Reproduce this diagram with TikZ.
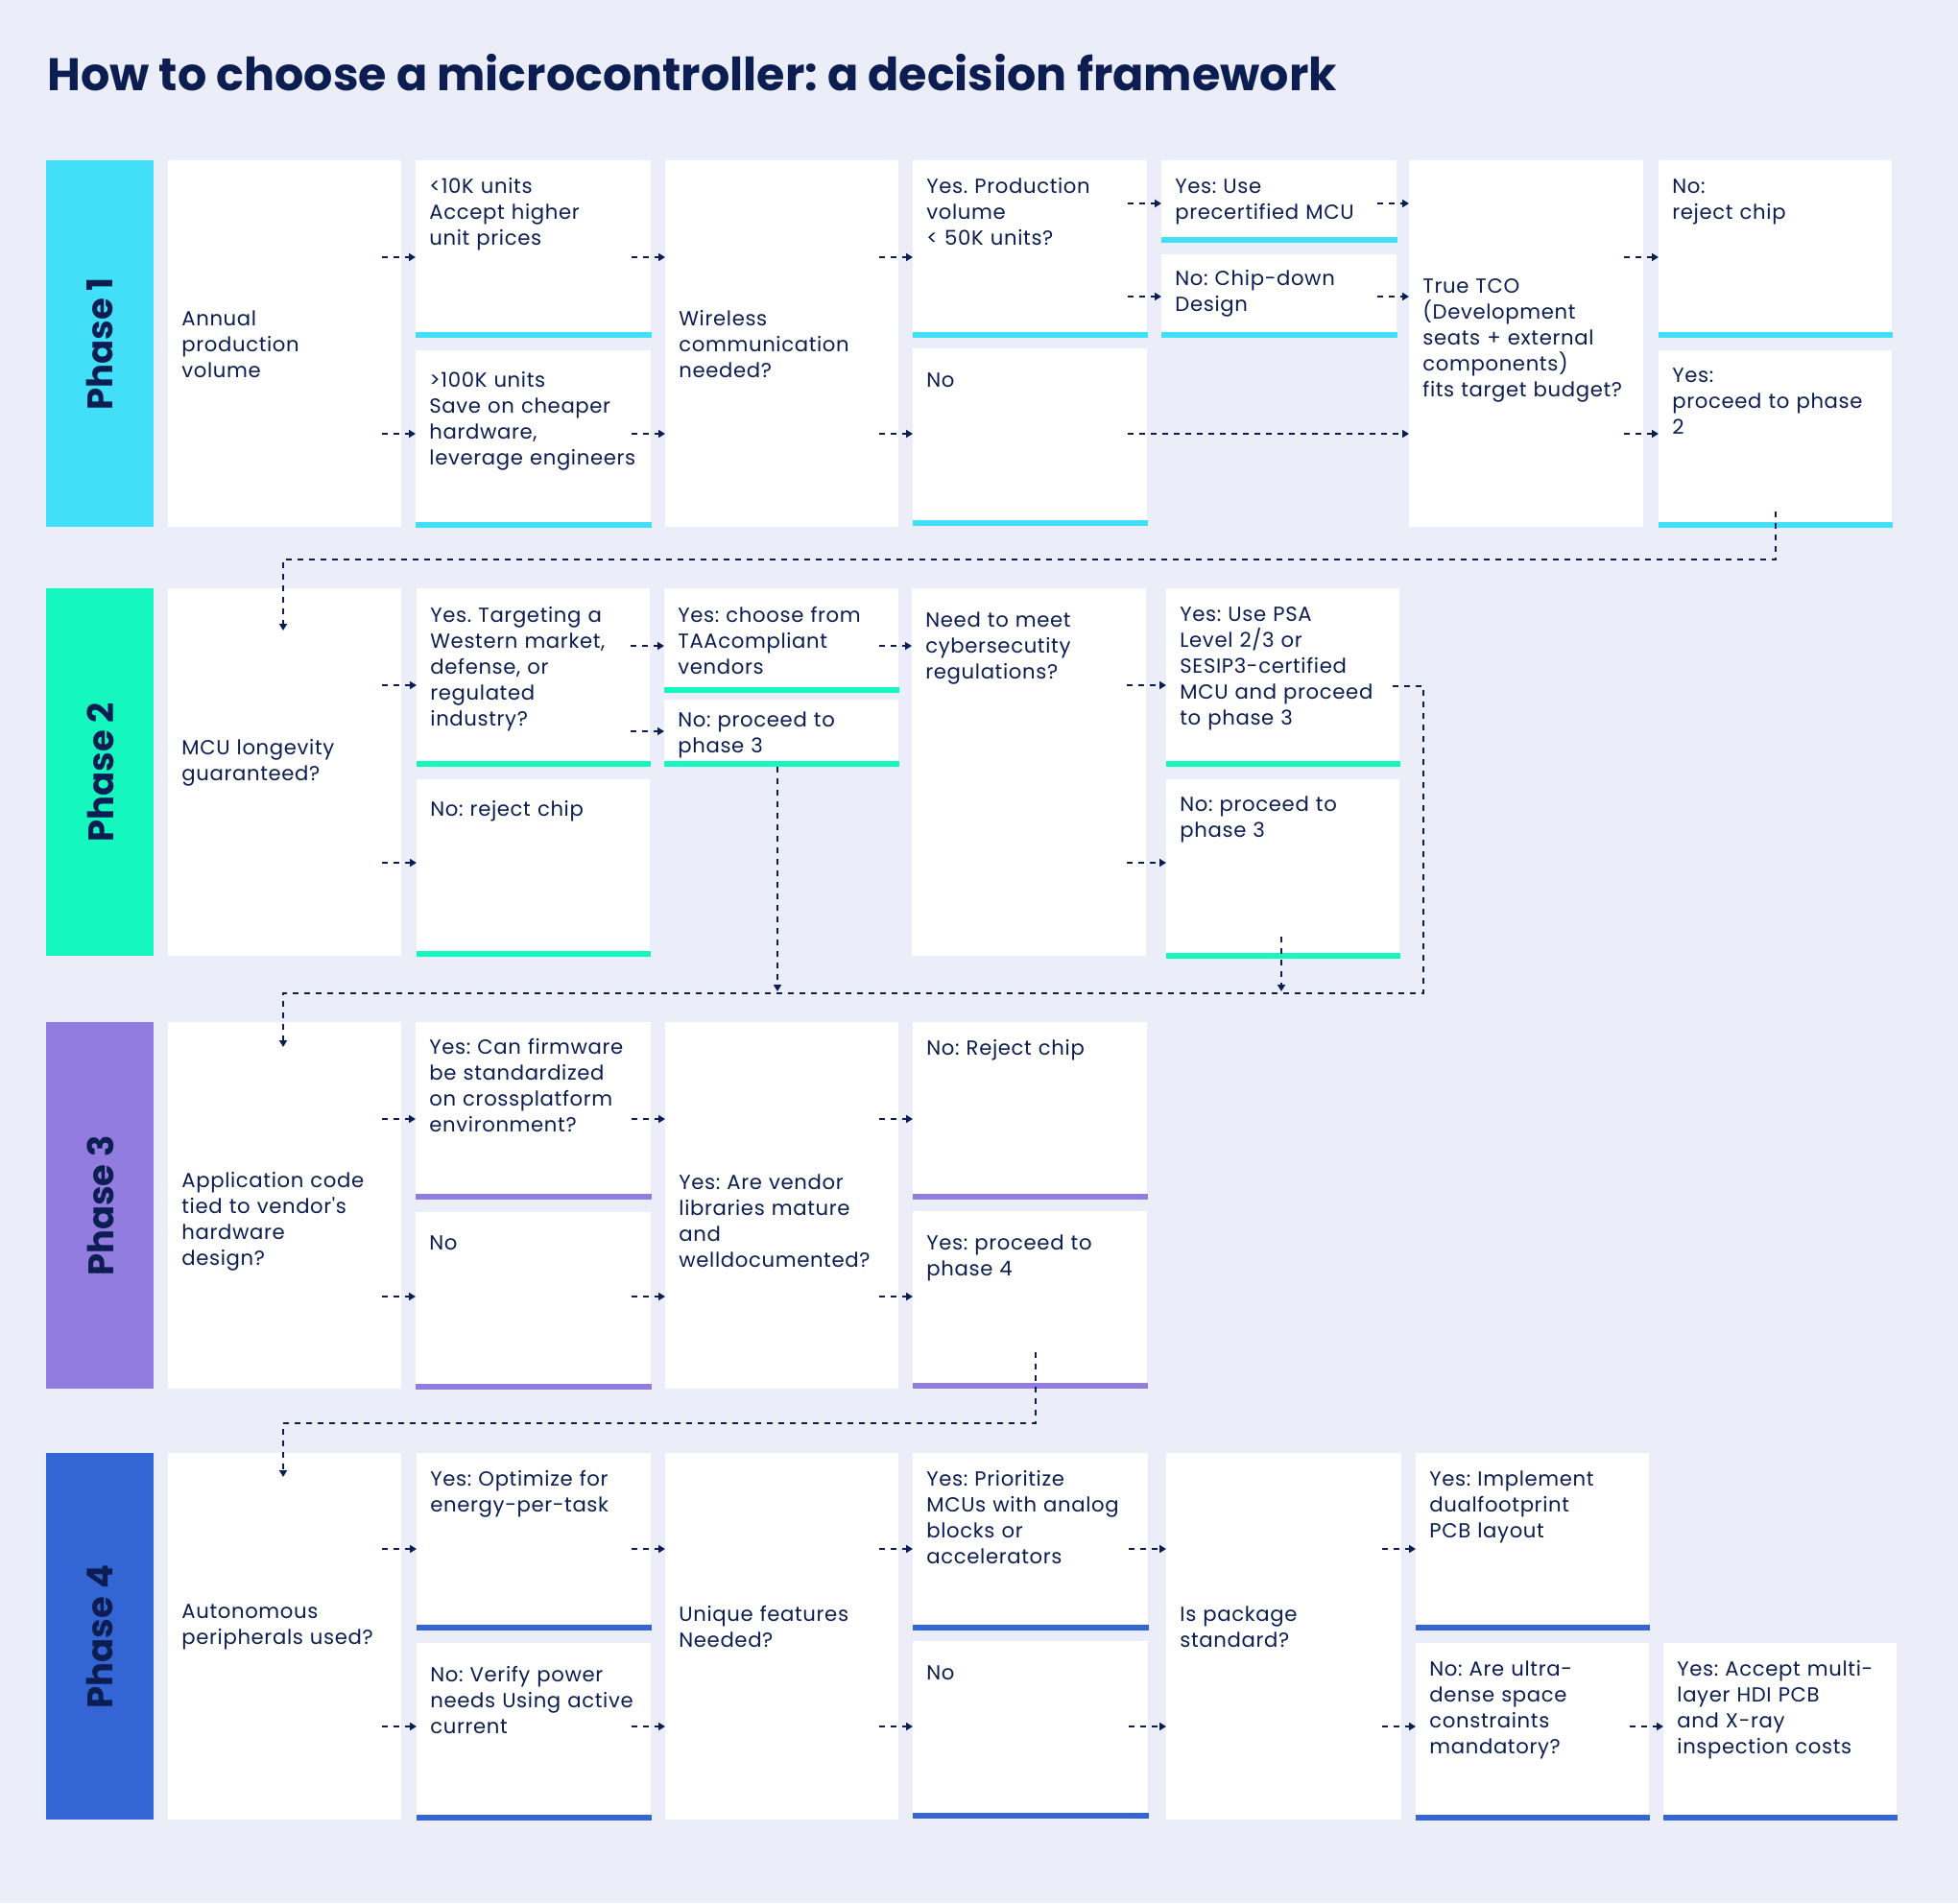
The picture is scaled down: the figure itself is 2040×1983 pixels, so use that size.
\documentclass[tikz,border=0pt]{standalone}
\usepackage{fontspec}
\setmainfont{Poppins}
\newfontfamily\bodyf{Poppins}[LetterSpace=3]
\usetikzlibrary{arrows.meta,calc}
\definecolor{bg}{HTML}{EBEEF8}
\definecolor{navy}{HTML}{0B1D51}
\definecolor{pa}{HTML}{42E0F8}
\definecolor{pb}{HTML}{14F8C0}
\definecolor{pc}{HTML}{927CE0}
\definecolor{pd}{HTML}{3366D4}
\frenchspacing
\tikzset{
  wbox/.style={fill=white, draw=none, inner sep=0pt, rectangle},
  btxt/.style={text=navy, font=\bodyf\fontsize{10.6pt}{13.5pt}\selectfont\frenchspacing, text width=118pt, align=left, inner sep=0pt},
  phbar/.style={draw=none, inner sep=0pt, anchor=north west, minimum width=56pt},
  phtxt/.style={rotate=90, text=navy, inner sep=0pt, font=\bfseries\fontsize{18.5pt}{20pt}\selectfont},
  conn/.style={draw=navy, line width=1pt, dash pattern=on 3pt off 3pt},
  arr/.style={conn, -{Triangle[length=3.5pt,width=4pt]}},
}
% question box, text centred vertically (#7 = vertical shift in px)
\newcommand\qbx[7]{%
  \node[wbox, anchor=north west, minimum width={(#4-#2)*0.5pt}, minimum height={(#5-#3)*0.5pt}] (#1) at (#2,#3) {};
  \node[btxt, anchor=west] (#1t) at ($(#1.west)+(14,#7)$) {#6};}
% question box, text at top
\newcommand\tqbx[7]{%
  \node[wbox, anchor=north west, minimum width={(#4-#2)*0.5pt}, minimum height={(#5-#3)*0.5pt}] (#1) at (#2,#3) {};
  \node[btxt, anchor=base west] (#1t) at ($(#1.north west)+(14,#7)$) {#6};}
% answer box with coloured bottom bar
\newcommand\abx[8]{%
  \node[wbox, anchor=north west, minimum width={(#4-#2)*0.5pt}, minimum height={(#5-#3)*0.5pt}] (#1) at (#2,#3) {};
  \fill[#6] ($(#1.south west)+(0,-6)$) rectangle (#1.south east);
  \node[btxt, anchor=base west] (#1t) at ($(#1.north west)+(14,#8)$) {#7};}
\newcommand\stub[3]{\draw[arr] (#1.east |- 0,#3) ++(-21,0) -- (#2.west |- 0,#3);}
\begin{document}
\begin{tikzpicture}[x=0.5pt,y=-0.5pt]
\useasboundingbox (0,0) rectangle (2040,1983);
\fill[bg] (0,0) rectangle (2040,1983);

\node[anchor=base west, inner sep=0pt, text=navy, font=\bfseries\fontsize{23.8pt}{28pt}\selectfont] (title) at (49,94) {How to choose a microcontroller: a decision framework};

% phase bars
\node[phbar, fill=pa, minimum height={(549-167)*0.5pt}] (ph1) at (48,167) {};
\node[phtxt] (ph1t) at (ph1.center) {Phase 1};
\node[phbar, fill=pb, minimum height={(996-613)*0.5pt}] (ph2) at (48,613) {};
\node[phtxt] (ph2t) at (ph2.center) {Phase 2};
\node[phbar, fill=pc, minimum height={(1447-1065)*0.5pt}] (ph3) at (48,1065) {};
\node[phtxt] (ph3t) at (ph3.center) {Phase 3};
\node[phbar, fill=pd, minimum height={(1896-1514)*0.5pt}] (ph4) at (48,1514) {};
\node[phtxt] (ph4t) at (ph4.center) {Phase 4};

% Phase 1
\qbx{a1}{175}{167}{418}{549}{Annual\\production\\volume}{0}
\abx{a2a}{433}{167}{678}{351}{pa}{<10K units\\Accept higher\\unit prices}{34}
\abx{a2b}{433}{365}{678}{549}{pa}{>100K units\\Save on cheaper\\hardware,\\leverage engineers}{38}
\qbx{a3}{693}{167}{936}{549}{Wireless\\communication\\needed?}{0}
\abx{a4a}{951}{167}{1195}{351}{pa}{Yes. Production\\volume\\< 50K units?}{34}
\abx{a4b}{951}{363}{1195}{547}{pa}{No}{40}
\abx{a5a}{1210}{167}{1455}{252}{pa}{Yes: Use\\precertified MCU}{34}
\abx{a5b}{1210}{265}{1455}{351}{pa}{No: Chip-down\\Design}{32}
\qbx{a6}{1468}{167}{1712}{549}{True TCO\\(Development\\seats + external\\components)\\fits target budget?}{-4}
\abx{a7a}{1728}{167}{1971}{351}{pa}{No:\\reject chip}{34}
\abx{a7b}{1728}{365}{1971}{549}{pa}{Yes:\\proceed to phase\\2}{33}

% Phase 2
\qbx{b1}{175}{613}{418}{996}{MCU longevity\\guaranteed?}{-10}
\abx{b2a}{434}{613}{677}{798}{pb}{Yes. Targeting a\\Western market,\\defense, or\\regulated\\industry?}{35}
\abx{b2b}{434}{812}{677}{996}{pb}{No: reject chip}{38}
\abx{b3a}{692}{613}{936}{721}{pb}{Yes: choose from\\TAAcompliant\\vendors}{35}
\abx{b3b}{692}{729}{936}{798}{pb}{No: proceed to\\phase 3}{28}
\tqbx{b4}{950}{613}{1194}{996}{Need to meet\\cybersecutity\\regulations?}{40}
\abx{b5a}{1215}{613}{1458}{798}{pb}{Yes: Use PSA\\Level 2/3 or\\SESIP3-certified\\MCU and proceed\\to phase 3}{34}
\abx{b5b}{1215}{812}{1458}{998}{pb}{No: proceed to\\phase 3}{33}

% Phase 3
\qbx{c1}{175}{1065}{418}{1447}{Application code\\tied to vendor's\\hardware\\design?}{16}
\abx{c2a}{433}{1065}{678}{1249}{pc}{Yes: Can firmware\\be standardized\\on crossplatform\\environment?}{33}
\abx{c2b}{433}{1263}{678}{1447}{pc}{No}{39}
\qbx{c3}{693}{1065}{936}{1447}{Yes: Are vendor\\libraries mature\\and\\welldocumented?}{16}
\abx{c4a}{951}{1065}{1195}{1249}{pc}{No: Reject chip}{34}
\abx{c4b}{951}{1262}{1195}{1446}{pc}{Yes: proceed to\\phase 4}{40}

% Phase 4
\qbx{d1}{175}{1514}{418}{1896}{Autonomous\\peripherals used?}{-10}
\abx{d2a}{434}{1514}{678}{1698}{pd}{Yes: Optimize for\\energy-per-task}{34}
\abx{d2b}{434}{1712}{678}{1896}{pd}{No: Verify power\\needs Using active\\current}{40}
\qbx{d3}{693}{1514}{936}{1896}{Unique features\\Needed?}{-10}
\abx{d4a}{951}{1514}{1196}{1698}{pd}{Yes: Prioritize\\MCUs with analog\\blocks or\\accelerators}{34}
\abx{d4b}{951}{1710}{1196}{1894}{pd}{No}{40}
\qbx{d5}{1215}{1514}{1460}{1896}{Is package\\standard?}{-10}
\abx{d6a}{1475}{1514}{1718}{1698}{pd}{Yes: Implement\\dualfootprint\\PCB layout}{34}
\abx{d6b}{1475}{1712}{1718}{1896}{pd}{No: Are ultra-\\dense space\\constraints\\mandatory?}{34}
\abx{d7}{1733}{1712}{1976}{1896}{pd}{Yes: Accept multi-\\layer HDI PCB\\and X-ray\\inspection costs}{34}

% junction coordinates
\coordinate (j1) at (1850,583);
\coordinate (j2) at (1483,1035);
\coordinate (j3) at (1079,1483);

% Phase 1 connectors
\stub{a1}{a2a}{268}
\stub{a1}{a2b}{452}
\stub{a2a}{a3}{268}
\stub{a2b}{a3}{452}
\stub{a3}{a4a}{268}
\stub{a3}{a4b}{452}
\stub{a4a}{a5a}{212}
\stub{a4a}{a5b}{309}
\stub{a5a}{a6}{212}
\stub{a5b}{a6}{309}
\stub{a4b}{a6}{452}
\stub{a6}{a7a}{268}
\stub{a6}{a7b}{452}
\draw[arr] (a7b.south -| j1) ++(0,-17) -- (j1) -| ($(b1.north west)+(120,44)$);

% Phase 2 connectors
\stub{b1}{b2a}{714}
\stub{b1}{b2b}{899}
\stub{b2a}{b3a}{673}
\stub{b2a}{b3b}{762}
\stub{b3a}{b4}{673}
\stub{b4}{b5a}{714}
\stub{b4}{b5b}{899}
\draw[arr] (b3b.south -| 810,0) -- (810,1033);
\draw[arr] (b5b.south -| 1335,0) ++(0,-23) -- (1335,1033);
\draw[arr] (b5a.east |- 0,715) ++(-8,0) -| (j2) -| ($(c1.north west)+(120,26)$);

% Phase 3 connectors
\stub{c1}{c2a}{1166}
\stub{c1}{c2b}{1351}
\stub{c2a}{c3}{1166}
\stub{c2b}{c3}{1351}
\stub{c3}{c4a}{1166}
\stub{c3}{c4b}{1351}
\draw[arr] (c4b.south -| j3) ++(0,-38) -- (j3) -| ($(d1.north west)+(120,25)$);

% Phase 4 connectors
\stub{d1}{d2a}{1614}
\stub{d1}{d2b}{1799}
\stub{d2a}{d3}{1614}
\stub{d2b}{d3}{1799}
\stub{d3}{d4a}{1614}
\stub{d3}{d4b}{1799}
\stub{d4a}{d5}{1614}
\stub{d4b}{d5}{1799}
\stub{d5}{d6a}{1614}
\stub{d5}{d6b}{1799}
\stub{d6b}{d7}{1799}
\end{tikzpicture}
\end{document}
